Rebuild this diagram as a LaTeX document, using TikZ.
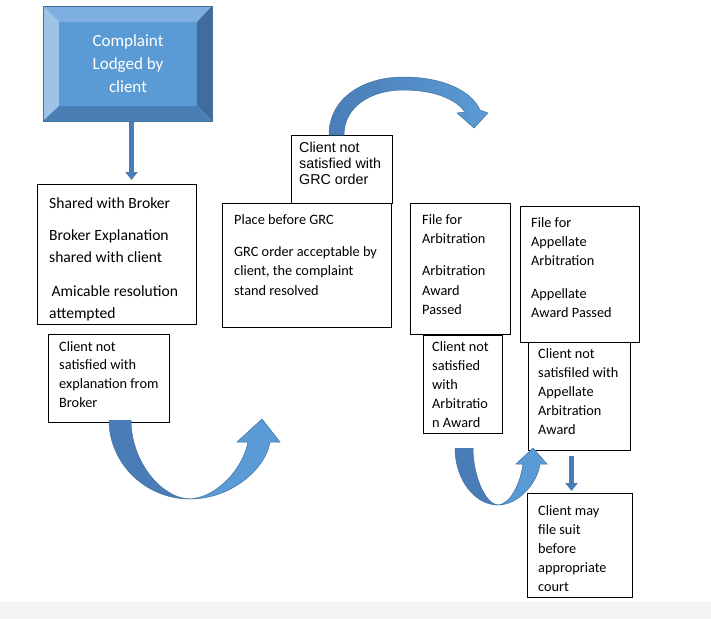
\documentclass[tikz,border=0pt]{standalone}
\usepackage{fontspec}
\setmainfont{Carlito}
\newfontfamily\arialfont{Liberation Sans}
\usetikzlibrary{arrows.meta,calc}
\definecolor{facecol}{HTML}{5B9BD5}
\definecolor{bevtop}{HTML}{7DAFE0}
\definecolor{bevleft}{HTML}{9DC3E6}
\definecolor{bevright}{HTML}{3E6D9E}
\definecolor{bevbot}{HTML}{4A7FB3}
\definecolor{edgecol}{HTML}{41719C}
\definecolor{arrdark}{HTML}{4A7DB7}
\definecolor{arrlight}{HTML}{5B9BD5}
\definecolor{greyband}{HTML}{F3F3F3}
\tikzset{
  flowbox/.style={draw=black, line width=0.8pt, fill=white, anchor=north west, inner sep=0pt},
  txt/.style={anchor=north west, inner sep=0pt, align=left, font={\fontsize{14.3}{19}\selectfont}},
  blockarrow/.style={draw=arrdark, line width=5pt, -{Triangle[width=12pt,length=8pt]}},
  bandedge/.style={draw=edgecol, line width=0.5pt},
}
\begin{document}
\begin{tikzpicture}[x=1pt,y=-1pt]
\useasboundingbox (0,0) rectangle (711,619);
\fill[white] (0,0) rectangle (711,619);
\fill[greyband] (0,602) rectangle (711,619);

% bevel box
\fill[bevtop] (43,6) -- (212,6) -- (197,22) -- (59,22) -- cycle;
\fill[bevleft] (43,6) -- (59,22) -- (59,106) -- (43,121) -- cycle;
\fill[bevright] (212,6) -- (212,121) -- (197,106) -- (197,22) -- cycle;
\fill[bevbot] (43,121) -- (59,106) -- (197,106) -- (212,121) -- cycle;
\node[fill=facecol, inner sep=0pt, minimum width=138pt, minimum height=84pt, anchor=north west] (face) at (59,22) {};
\node[draw=edgecol, line width=0.8pt, inner sep=0pt, minimum width=169pt, minimum height=115pt, anchor=north west] (top) at (43,6) {};
\node[anchor=north, inner sep=0pt, align=center, text=white, font={\fontsize{17}{23}\selectfont}] (toptxt) at (128,34) {Complaint\\Lodged by\\client};

% boxes
\node[flowbox, minimum width=159pt, minimum height=140pt] (b1) at (37,184) {};
\node[txt, font={\fontsize{15.6}{22}\selectfont}] (b1t) at (49,197.5) {Shared with Broker\\[10pt]Broker Explanation\\shared with client\\[12pt]\hspace{2.5pt}Amicable resolution\\attempted};

\node[flowbox, minimum width=121pt, minimum height=88pt] (b2) at (48,334) {};
\node[txt, font={\fontsize{14.3}{18.7}\selectfont}] (b2t) at (59,341) {Client not\\satisfied with\\explanation from\\Broker};

\node[flowbox, minimum width=169pt, minimum height=124pt] (grc) at (222,203) {};
\node[txt, font={\fontsize{14.3}{19.5}\selectfont}] (grct) at (234,214) {Place before GRC\\[12.5pt]GRC order acceptable by\\client, the complaint\\stand resolved};

\node[flowbox, minimum width=101pt, minimum height=68pt] (grcns) at (291,135) {};
\node[txt, font={\arialfont\fontsize{14.3}{16}\selectfont}] (grcnst) at (299,142) {Client not\\satisfied with\\GRC order};

\node[flowbox, minimum width=100pt, minimum height=131pt] (arb) at (410,203) {};
\node[txt, font={\fontsize{14.3}{19.5}\selectfont}] (arbt) at (422,214) {File for\\Arbitration\\[12.5pt]Arbitration\\Award\\Passed};

\node[flowbox, minimum width=119pt, minimum height=136pt] (app) at (520,206) {};
\node[txt, font={\fontsize{14.3}{19}\selectfont}] (appt) at (531,217) {File for\\Appellate\\Arbitration\\[14pt]Appellate\\Award Passed};

\node[flowbox, minimum width=79pt, minimum height=98pt] (arbns) at (423,335) {};
\node[txt, font={\fontsize{14.3}{19}\selectfont}] (arbnst) at (432,341) {Client not\\satisfied\\with\\Arbitratio\\n Award};

\node[flowbox, minimum width=102pt, minimum height=108pt] (appns) at (528,342) {};
\node[txt, font={\fontsize{14.3}{19}\selectfont}] (appnst) at (538,348) {Client not\\satisfiled with\\Appellate\\Arbitration\\Award};

\node[flowbox, minimum width=105pt, minimum height=104pt] (court) at (527,493) {};
\node[txt, font={\fontsize{14.3}{19}\selectfont}] (courtt) at (538,505) {Client may\\file suit\\before\\appropriate\\court};

% straight block arrows
\coordinate (ax1) at (131.5,0);
\coordinate (ax2) at (571.5,0);
\draw[blockarrow] (top.south -| ax1) -- ($(b1.north -| ax1)+(0,-4)$);
\draw[blockarrow] ($(appns.south -| ax2)+(0,5)$) -- ($(court.north -| ax2)+(0,-2)$);

% U arrow 1
\fill[arrdark] (109,420) .. controls (109,463) and (145,499) .. (190,499)
  .. controls (160,498) and (131,460) .. (131,420) -- cycle;
\draw[bandedge] (109,420) .. controls (109,463) and (145,499) .. (190,499);
\draw[bandedge] (131,420) .. controls (131,460) and (160,498) .. (190,499);
\filldraw[fill=arrlight, bandedge] (190,499) .. controls (232,499) and (266,468) .. (270,442)
  -- (280,442) -- (262,419) -- (237,442) -- (248,442)
  .. controls (243,468) and (218,497) .. (190,499) -- cycle;

% U arrow 2
\fill[arrdark] (455,448) .. controls (455,480) and (475,505) .. (498,505)
  .. controls (485,504) and (473,475) .. (473,448) -- cycle;
\draw[bandedge] (455,448) .. controls (455,480) and (475,505) .. (498,505);
\draw[bandedge] (473,448) .. controls (473,475) and (485,504) .. (498,505);
\filldraw[fill=arrlight, bandedge] (498,505) .. controls (517,505) and (537,485) .. (540,464)
  -- (547,464) -- (533,448) -- (516,464) -- (523,464)
  .. controls (520,485) and (510,504) .. (498,505) -- cycle;

% top arc arrow
\path[left color=arrdark, right color=arrlight, bandedge] (329,135) .. controls (329,97) and (365,77) .. (403,77)
  .. controls (445,77) and (472,92) .. (480,110)
  -- (488,113) -- (474,128) -- (457,113) -- (465,112)
  .. controls (455,98) and (432,90) .. (403,90)
  .. controls (372,90) and (344,106) .. (344,135) -- cycle;
\end{tikzpicture}
\end{document}
